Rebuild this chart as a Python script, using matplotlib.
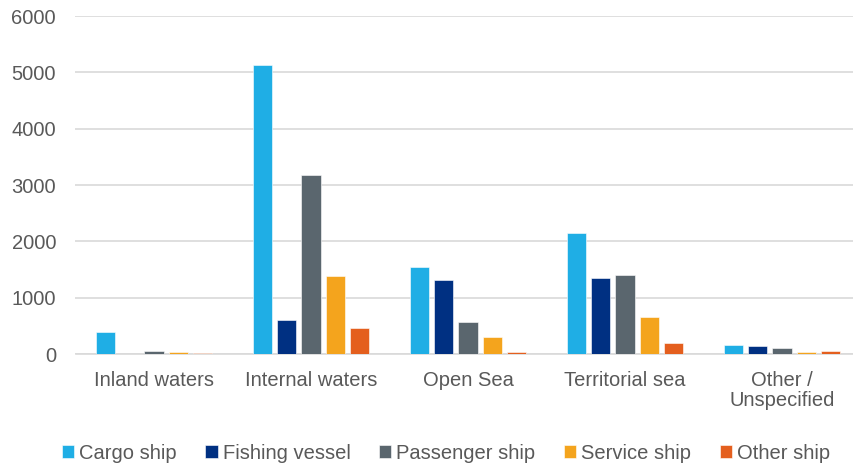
import matplotlib
matplotlib.use("Agg")
import matplotlib.pyplot as plt
import numpy as np

categories = ["Inland waters", "Internal waters", "Open Sea", "Territorial sea", "Other /\nUnspecified"]
series_names = ["Cargo ship", "Fishing vessel", "Passenger ship", "Service ship", "Other ship"]
cargo = [390, 5130, 1545, 2140, 160]
fishing = [0, 600, 1310, 1345, 140]
passenger = [50, 3180, 575, 1400, 100]
service = [35, 1385, 295, 650, 35]
other = [15, 460, 35, 195, 45]
values = [cargo, fishing, passenger, service, other]
colors = ["#1FAEE5", "#003082", "#5A666E", "#F4A41D", "#E45F1E"]

plt.rcParams['font.family'] = ['Liberation Sans', 'DejaVu Sans']
fig = plt.figure(figsize=(8.54, 4.69), dpi=100)
ax = fig.add_axes([75.5/854, 1-354/469, 785/854, (354-16)/469])

x = np.arange(len(categories))
pitch = 0.155
width = 0.124
for i, (name, vals, c) in enumerate(zip(series_names, values, colors)):
    ax.bar(x + (i - 2) * pitch, vals, width, color=c, label=name, zorder=3,
           edgecolor='white', linewidth=0.4)

ax.set_xlim(-0.5, 4.5)
ax.set_ylim(0, 6000)
ax.set_yticks(range(0, 6001, 1000))
ax.set_xticks(x)
ax.set_xticklabels(categories, linespacing=1.1)
ax.grid(axis='y', color='#D9D9D9', linewidth=1.2, zorder=0)
for s in ['top', 'right', 'left']:
    ax.spines[s].set_visible(False)
ax.spines['bottom'].set_color('#D9D9D9')
ax.spines['bottom'].set_linewidth(1.2)
ax.tick_params(axis='both', length=0, labelsize=14.5, colors='#595959')
ax.tick_params(axis='x', pad=12)
ax.tick_params(axis='y', pad=14)

fig.legend(loc='center', bbox_to_anchor=(446/854, 1-453/469), ncol=5, frameon=False,
           fontsize=14.5, handlelength=0.6, handleheight=0.6, handletextpad=0.25,
           columnspacing=1.42, labelcolor='#595959', borderpad=0)

fig.savefig("out.png", dpi=100)
